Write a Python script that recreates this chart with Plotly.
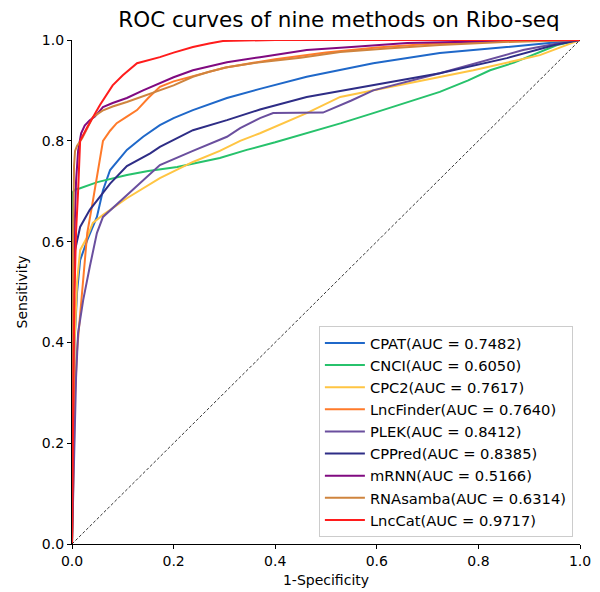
import plotly.graph_objects as go

names = ["CPAT(AUC = 0.7482)", "CNCI(AUC = 0.6050)", "CPC2(AUC = 0.7617)",
         "LncFinder(AUC = 0.7640)", "PLEK(AUC = 0.8412)", "CPPred(AUC = 0.8385)",
         "mRNN(AUC = 0.5166)", "RNAsamba(AUC = 0.6314)", "LncCat(AUC = 0.9717)"]
colors = ["#1f68c9", "#27c26c", "#ffc543", "#ff7a2a", "#6a4f9e", "#2e2d86",
          "#800a80", "#cf843e", "#ff1c1c"]

cpat_fpr = [0, 0.002, 0.005, 0.01, 0.016, 0.03, 0.049, 0.061, 0.075, 0.108, 0.14, 0.173, 0.2, 0.238, 0.27, 0.305, 0.37, 0.462, 0.593, 0.724, 0.856, 0.95, 1.0]
cpat_tpr = [0, 0.2, 0.4, 0.5, 0.563, 0.603, 0.649, 0.702, 0.742, 0.782, 0.808, 0.831, 0.845, 0.861, 0.873, 0.885, 0.903, 0.927, 0.954, 0.974, 0.986, 0.995, 1.0]

cnci_fpr = [0, 0.0, 0.005, 0.016, 0.05, 0.108, 0.15, 0.207, 0.291, 0.344, 0.4, 0.462, 0.53, 0.593, 0.66, 0.724, 0.78, 0.823, 0.87, 0.908, 0.955, 1.0]
cnci_tpr = [0, 0.695, 0.703, 0.706, 0.718, 0.732, 0.74, 0.748, 0.766, 0.782, 0.797, 0.815, 0.835, 0.855, 0.876, 0.897, 0.92, 0.94, 0.955, 0.97, 0.99, 1.0]

cpc2_fpr = [0, 0.002, 0.005, 0.01, 0.016, 0.03, 0.041, 0.061, 0.108, 0.173, 0.238, 0.291, 0.331, 0.37, 0.462, 0.528, 0.66, 0.79, 0.921, 1.0]
cpc2_tpr = [0, 0.2, 0.4, 0.52, 0.583, 0.609, 0.637, 0.653, 0.686, 0.726, 0.758, 0.78, 0.80, 0.815, 0.855, 0.887, 0.914, 0.94, 0.97, 1.0]

lncfinder_fpr = [0, 0.002, 0.004, 0.006, 0.01, 0.016, 0.022, 0.03, 0.041, 0.055, 0.061, 0.075, 0.088, 0.108, 0.128, 0.15, 0.173, 0.2, 0.238, 0.3, 0.4, 0.5, 0.6, 0.7, 0.8, 0.9, 1.0]
lncfinder_tpr = [0, 0.12, 0.25, 0.30, 0.385, 0.45, 0.518, 0.617, 0.68, 0.765, 0.80, 0.82, 0.835, 0.848, 0.861, 0.885, 0.907, 0.918, 0.928, 0.945, 0.962, 0.975, 0.985, 0.992, 0.996, 0.999, 1.0]

plek_fpr = [0, 0.002, 0.005, 0.008, 0.012, 0.022, 0.035, 0.049, 0.061, 0.094, 0.134, 0.173, 0.238, 0.305, 0.331, 0.37, 0.396, 0.45, 0.494, 0.55, 0.593, 0.724, 0.888, 0.95, 1.0]
plek_tpr = [0, 0.1, 0.25, 0.33, 0.419, 0.484, 0.55, 0.617, 0.649, 0.679, 0.716, 0.752, 0.78, 0.808, 0.825, 0.845, 0.855, 0.855, 0.856, 0.88, 0.90, 0.934, 0.98, 0.992, 1.0]

cppred_fpr = [0, 0.001, 0.003, 0.006, 0.016, 0.035, 0.075, 0.108, 0.154, 0.173, 0.238, 0.305, 0.37, 0.462, 0.593, 0.724, 0.856, 0.95, 1.0]
cppred_tpr = [0, 0.2, 0.45, 0.583, 0.629, 0.663, 0.715, 0.75, 0.775, 0.788, 0.821, 0.841, 0.862, 0.887, 0.911, 0.934, 0.964, 0.99, 1.0]

mrnn_fpr = [0, 0.001, 0.003, 0.005, 0.008, 0.012, 0.018, 0.025, 0.035, 0.045, 0.061, 0.08, 0.108, 0.14, 0.173, 0.2, 0.238, 0.27, 0.305, 0.37, 0.462, 0.55, 0.66, 0.8, 0.9, 1.0]
mrnn_tpr = [0, 0.2, 0.45, 0.62, 0.72, 0.78, 0.815, 0.83, 0.841, 0.848, 0.867, 0.875, 0.885, 0.9, 0.915, 0.926, 0.94, 0.948, 0.956, 0.966, 0.98, 0.986, 0.994, 0.997, 0.999, 1.0]

rnasamba_fpr = [0, 0.001, 0.002, 0.004, 0.006, 0.01, 0.02, 0.03, 0.041, 0.06, 0.08, 0.108, 0.14, 0.173, 0.2, 0.238, 0.27, 0.305, 0.37, 0.45, 0.528, 0.62, 0.724, 0.85, 1.0]
rnasamba_tpr = [0, 0.3, 0.6, 0.75, 0.78, 0.79, 0.805, 0.825, 0.847, 0.86, 0.868, 0.877, 0.888, 0.90, 0.91, 0.927, 0.937, 0.946, 0.956, 0.965, 0.976, 0.983, 0.99, 0.996, 1.0]

lnccat_fpr = [0, 0.001, 0.003, 0.005, 0.008, 0.012, 0.016, 0.03, 0.041, 0.055, 0.08, 0.1, 0.128, 0.15, 0.173, 0.2, 0.238, 0.27, 0.297, 0.4, 0.6, 0.8, 1.0]
lnccat_tpr = [0, 0.15, 0.35, 0.5, 0.62, 0.70, 0.80, 0.827, 0.847, 0.871, 0.91, 0.93, 0.954, 0.96, 0.966, 0.975, 0.986, 0.993, 0.998, 1.0, 1.0, 1.0, 1.0]

diag = [0, 1]

fprs = [cpat_fpr, cnci_fpr, cpc2_fpr, lncfinder_fpr, plek_fpr, cppred_fpr, mrnn_fpr, rnasamba_fpr, lnccat_fpr]
tprs = [cpat_tpr, cnci_tpr, cpc2_tpr, lncfinder_tpr, plek_tpr, cppred_tpr, mrnn_tpr, rnasamba_tpr, lnccat_tpr]

fig = go.Figure()
for n, c, fx, ty in zip(names, colors, fprs, tprs):
    fig.add_trace(go.Scatter(x=fx, y=ty, mode="lines", name=n,
                             line=dict(color=c, width=2)))
fig.add_trace(go.Scatter(x=diag, y=diag, mode="lines", showlegend=False,
                         line=dict(color="black", width=0.8, dash="3px,2px")))

font = "DejaVu Sans, sans-serif"
axis_common = dict(range=[0, 1], tickvals=[0, 0.2, 0.4, 0.6, 0.8, 1.0],
                   ticktext=["0.0", "0.2", "0.4", "0.6", "0.8", "1.0"],
                   showline=True, linecolor="black", linewidth=1.2,
                   ticks="outside", ticklen=4, tickcolor="black",
                   showgrid=False, zeroline=False, automargin=False,
                   tickfont=dict(family=font, size=14, color="black"))
fig.update_layout(
    width=600, height=592,
    margin=dict(l=72, r=20, t=40, b=48),
    paper_bgcolor="white", plot_bgcolor="white",
    title=dict(text="ROC curves of nine methods on Ribo-seq", x=339/600, xanchor="center",
               y=1 - 19/592, yanchor="middle",
               font=dict(family=font, size=21.5, color="black")),
    xaxis=dict(**axis_common, title=dict(text="1-Specificity", standoff=7,
                                         font=dict(family=font, size=14, color="black"))),
    yaxis=dict(**axis_common, title=dict(text="Sensitivity", standoff=10,
                                         font=dict(family=font, size=14, color="black"))),
    legend=dict(x=0.986, y=0.014, xanchor="right", yanchor="bottom",
                bgcolor="white", bordercolor="#cccccc", borderwidth=1,
                itemwidth=40,
                font=dict(family=font, size=14.7, color="black")),
    showlegend=True,
)
fig.write_html("out.html")
